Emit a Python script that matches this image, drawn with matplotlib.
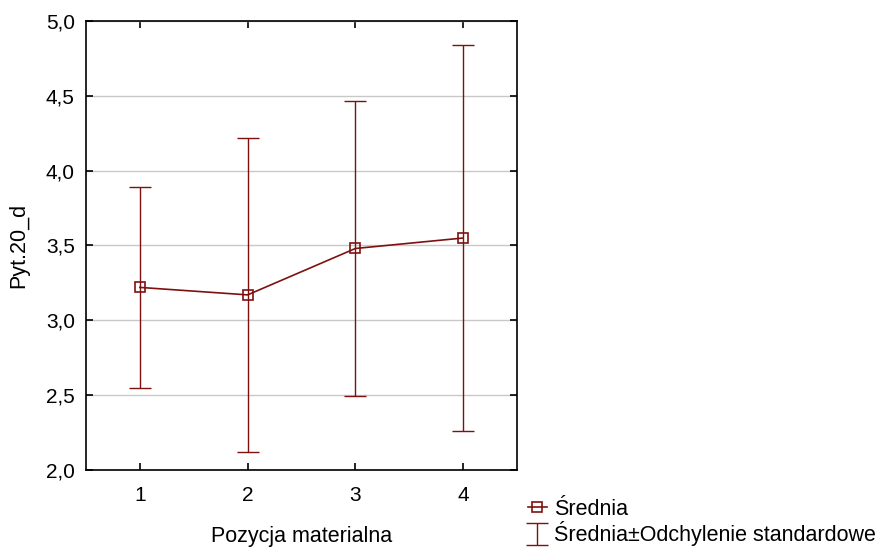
import matplotlib
matplotlib.use("Agg")
import matplotlib.pyplot as plt
from matplotlib.ticker import FuncFormatter

plt.rcParams['font.family'] = ['Liberation Sans', 'DejaVu Sans']

positions = [1, 2, 3, 4]
means = [3.22, 3.17, 3.48, 3.55]
sds = [0.67, 1.05, 0.985, 1.29]
y_ticks = [2.0, 2.5, 3.0, 3.5, 4.0, 4.5, 5.0]

color = '#7f1010'
fs = 15
fs_lab = 15.5

fig = plt.figure(figsize=(8.8, 5.47), dpi=100)
ax = fig.add_axes([0.0977, 0.1408, 0.4898, 0.8208])

ax.set_xlim(0.5, 4.5)
ax.set_ylim(2.0, 5.0)
ax.set_yticks(y_ticks)
ax.set_xticks(positions)
ax.yaxis.set_major_formatter(FuncFormatter(lambda v, p: f"{v:.1f}".replace('.', ',')))
ax.grid(axis='y', color='#c8c8c8', linewidth=1)
ax.set_axisbelow(True)

eb = ax.errorbar(positions, means, yerr=sds, fmt='none', ecolor=color,
                 elinewidth=1.0, capsize=8, capthick=1.0,
                 label='Średnia±Odchylenie standardowe')
ln, = ax.plot(positions, means, color=color, linewidth=1.2, marker='s',
              markersize=7, markerfacecolor='none', markeredgecolor=color,
              markeredgewidth=1.2, label='Średnia')

for s in ax.spines.values():
    s.set_linewidth(1.2)
    s.set_color('black')

ax.tick_params(axis='y', direction='in', length=5, width=1.2, right=True,
               labelsize=fs, pad=8)
ax.tick_params(axis='x', direction='in', length=5, width=1.2, top=True,
               labelsize=fs, pad=11.5)

ax.set_xlabel('Pozycja materialna', fontsize=fs_lab, labelpad=15)
ax.set_ylabel('Pyt.20_d', fontsize=fs_lab, labelpad=12)

fig.legend([ln, eb], ['Średnia', 'Średnia±Odchylenie standardowe'],
           loc='upper left', bbox_to_anchor=(0.59, 0.104), frameon=False,
           fontsize=fs_lab, handlelength=0.9, handletextpad=0.3,
           labelspacing=0.08, borderaxespad=0)

fig.savefig('out.png', dpi=100)
